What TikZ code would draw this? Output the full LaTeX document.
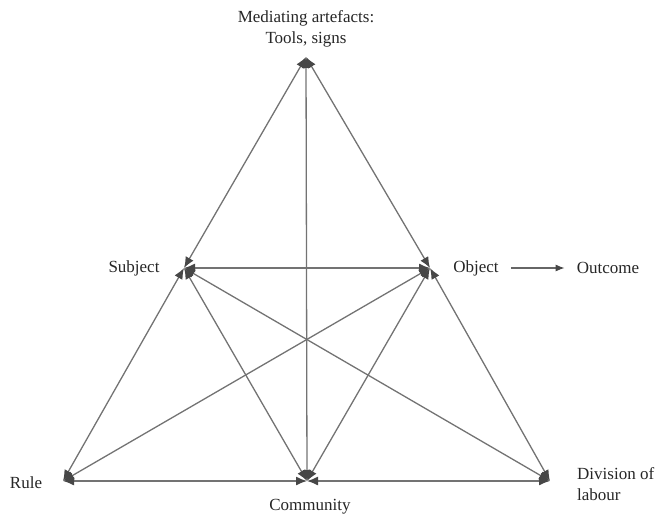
\documentclass[tikz,border=0pt]{standalone}
\usepackage{fontspec}
\setmainfont{Liberation Serif}
\usetikzlibrary{arrows.meta}
\begin{document}
\begin{tikzpicture}[x=1pt,y=-1pt,
  lbl/.style={font=\fontsize{17}{21}\selectfont, text=black!85, inner sep=0pt},
  edge/.style={draw=black!55, line width=1.3pt,
    {Latex[length=11pt,width=9pt,fill=black!72,color=black!72]}-{Latex[length=11pt,width=9pt,fill=black!72,color=black!72]}},
  outarrow/.style={draw=black!60, line width=1.1pt,
    -{Latex[length=9pt,width=7pt,fill=black!72,color=black!72]}}]
\useasboundingbox (0,0) rectangle (658,516);
\coordinate (T) at (306,57);
\coordinate (S) at (184,268);
\coordinate (O) at (430,268);
\coordinate (R) at (63,481);
\coordinate (C) at (307,481);
\coordinate (D) at (550,481);
% labels
\node[lbl, align=center] (med) at (306,29) {Mediating artefacts:\\Tools, signs};
\node[lbl] (subj) at (134,268) {Subject};
\node[lbl] (obj) at (476,268) {Object};
\node[lbl] (out) at (608,268) {Outcome};
\node[lbl] (rule) at (26,483) {Rule};
\node[lbl] (comm) at (310,507) {Community};
\node[lbl, align=left, anchor=west] (div) at (577,484) {Division of\\labour};
% edges
\draw[edge] (T) -- (S);
\draw[edge] (T) -- (O);
\draw[edge] (T) -- (C);
\draw[edge] (S) -- (O);
\draw[edge] (S) -- (R);
\draw[edge] (S) -- (C);
\draw[edge] (S) -- (D);
\draw[edge] (O) -- (R);
\draw[edge] (O) -- (C);
\draw[edge] (O) -- (D);
\draw[edge] (R) -- (C);
\draw[edge] (C) -- (D);
\draw[outarrow] ([xshift=12pt]obj.east) -- ([xshift=-12pt]out.west);
\end{tikzpicture}
\end{document}
